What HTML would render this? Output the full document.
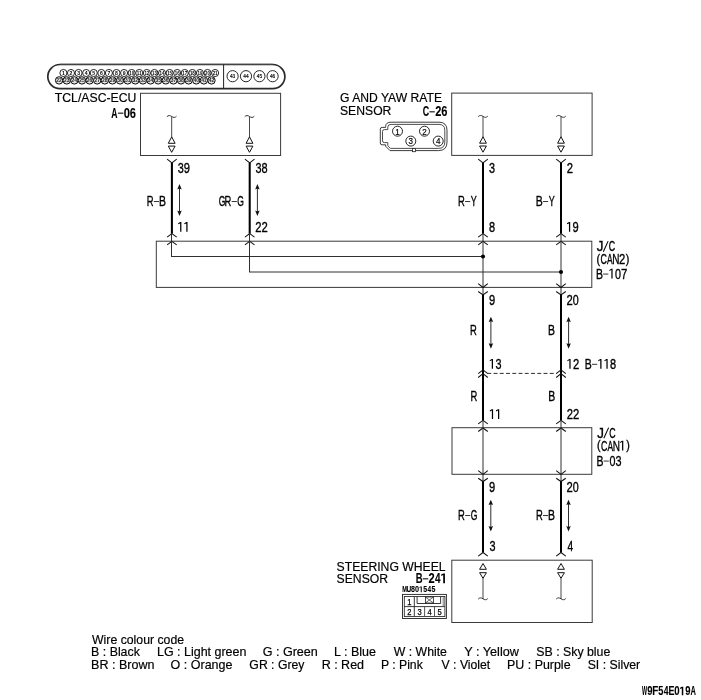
<!DOCTYPE html>
<html><head><meta charset="utf-8"><title>Wiring diagram</title>
<style>
html,body{margin:0;padding:0;background:#fff;}
body{width:701px;height:700px;overflow:hidden;}
svg{display:block;will-change:transform;}
text{font-family:"Liberation Sans",sans-serif;fill:#000;}
</style></head>
<body>
<svg width="701" height="700" viewBox="0 0 701 700">
<rect x="0" y="0" width="701" height="700" fill="#fff"/>
<rect x="47.8" y="64.5" width="237.09999999999997" height="24.200000000000003" rx="12.100000000000001" ry="12.100000000000001" fill="#fff" stroke="#2a2a2a" stroke-width="1.7"/>
<line x1="59.9" y1="63.8" x2="272.79999999999995" y2="63.8" stroke="#999" stroke-width="0.8" />
<line x1="223.6" y1="64.5" x2="223.6" y2="88.7" stroke="#222" stroke-width="1" />
<circle cx="59.10" cy="80.4" r="3.7" fill="#e4e4e4" stroke="#000" stroke-width="0.95"/>
<text x="59.10" y="82.2" font-size="5" font-weight="bold" text-anchor="middle" textLength="5.5" lengthAdjust="spacingAndGlyphs" style="fill:#222">22</text>
<circle cx="66.72" cy="80.4" r="3.7" fill="#e4e4e4" stroke="#000" stroke-width="0.95"/>
<text x="66.72" y="82.2" font-size="5" font-weight="bold" text-anchor="middle" textLength="5.5" lengthAdjust="spacingAndGlyphs" style="fill:#222">23</text>
<circle cx="74.34" cy="80.4" r="3.7" fill="#e4e4e4" stroke="#000" stroke-width="0.95"/>
<text x="74.34" y="82.2" font-size="5" font-weight="bold" text-anchor="middle" textLength="5.5" lengthAdjust="spacingAndGlyphs" style="fill:#222">24</text>
<circle cx="81.96" cy="80.4" r="3.7" fill="#e4e4e4" stroke="#000" stroke-width="0.95"/>
<text x="81.96" y="82.2" font-size="5" font-weight="bold" text-anchor="middle" textLength="5.5" lengthAdjust="spacingAndGlyphs" style="fill:#222">25</text>
<circle cx="89.58" cy="80.4" r="3.7" fill="#e4e4e4" stroke="#000" stroke-width="0.95"/>
<text x="89.58" y="82.2" font-size="5" font-weight="bold" text-anchor="middle" textLength="5.5" lengthAdjust="spacingAndGlyphs" style="fill:#222">26</text>
<circle cx="97.20" cy="80.4" r="3.7" fill="#e4e4e4" stroke="#000" stroke-width="0.95"/>
<text x="97.20" y="82.2" font-size="5" font-weight="bold" text-anchor="middle" textLength="5.5" lengthAdjust="spacingAndGlyphs" style="fill:#222">27</text>
<circle cx="104.82" cy="80.4" r="3.7" fill="#e4e4e4" stroke="#000" stroke-width="0.95"/>
<text x="104.82" y="82.2" font-size="5" font-weight="bold" text-anchor="middle" textLength="5.5" lengthAdjust="spacingAndGlyphs" style="fill:#222">28</text>
<circle cx="112.44" cy="80.4" r="3.7" fill="#e4e4e4" stroke="#000" stroke-width="0.95"/>
<text x="112.44" y="82.2" font-size="5" font-weight="bold" text-anchor="middle" textLength="5.5" lengthAdjust="spacingAndGlyphs" style="fill:#222">29</text>
<circle cx="120.06" cy="80.4" r="3.7" fill="#e4e4e4" stroke="#000" stroke-width="0.95"/>
<text x="120.06" y="82.2" font-size="5" font-weight="bold" text-anchor="middle" textLength="5.5" lengthAdjust="spacingAndGlyphs" style="fill:#222">30</text>
<circle cx="127.68" cy="80.4" r="3.7" fill="#e4e4e4" stroke="#000" stroke-width="0.95"/>
<text x="127.68" y="82.2" font-size="5" font-weight="bold" text-anchor="middle" textLength="5.5" lengthAdjust="spacingAndGlyphs" style="fill:#222">31</text>
<circle cx="135.30" cy="80.4" r="3.7" fill="#e4e4e4" stroke="#000" stroke-width="0.95"/>
<text x="135.30" y="82.2" font-size="5" font-weight="bold" text-anchor="middle" textLength="5.5" lengthAdjust="spacingAndGlyphs" style="fill:#222">32</text>
<circle cx="142.92" cy="80.4" r="3.7" fill="#e4e4e4" stroke="#000" stroke-width="0.95"/>
<text x="142.92" y="82.2" font-size="5" font-weight="bold" text-anchor="middle" textLength="5.5" lengthAdjust="spacingAndGlyphs" style="fill:#222">33</text>
<circle cx="150.54" cy="80.4" r="3.7" fill="#e4e4e4" stroke="#000" stroke-width="0.95"/>
<text x="150.54" y="82.2" font-size="5" font-weight="bold" text-anchor="middle" textLength="5.5" lengthAdjust="spacingAndGlyphs" style="fill:#222">34</text>
<circle cx="158.16" cy="80.4" r="3.7" fill="#e4e4e4" stroke="#000" stroke-width="0.95"/>
<text x="158.16" y="82.2" font-size="5" font-weight="bold" text-anchor="middle" textLength="5.5" lengthAdjust="spacingAndGlyphs" style="fill:#222">35</text>
<circle cx="165.78" cy="80.4" r="3.7" fill="#e4e4e4" stroke="#000" stroke-width="0.95"/>
<text x="165.78" y="82.2" font-size="5" font-weight="bold" text-anchor="middle" textLength="5.5" lengthAdjust="spacingAndGlyphs" style="fill:#222">36</text>
<circle cx="173.40" cy="80.4" r="3.7" fill="#e4e4e4" stroke="#000" stroke-width="0.95"/>
<text x="173.40" y="82.2" font-size="5" font-weight="bold" text-anchor="middle" textLength="5.5" lengthAdjust="spacingAndGlyphs" style="fill:#222">37</text>
<circle cx="181.02" cy="80.4" r="3.7" fill="#e4e4e4" stroke="#000" stroke-width="0.95"/>
<text x="181.02" y="82.2" font-size="5" font-weight="bold" text-anchor="middle" textLength="5.5" lengthAdjust="spacingAndGlyphs" style="fill:#222">38</text>
<circle cx="188.64" cy="80.4" r="3.7" fill="#e4e4e4" stroke="#000" stroke-width="0.95"/>
<text x="188.64" y="82.2" font-size="5" font-weight="bold" text-anchor="middle" textLength="5.5" lengthAdjust="spacingAndGlyphs" style="fill:#222">39</text>
<circle cx="196.26" cy="80.4" r="3.7" fill="#e4e4e4" stroke="#000" stroke-width="0.95"/>
<text x="196.26" y="82.2" font-size="5" font-weight="bold" text-anchor="middle" textLength="5.5" lengthAdjust="spacingAndGlyphs" style="fill:#222">40</text>
<circle cx="203.88" cy="80.4" r="3.7" fill="#e4e4e4" stroke="#000" stroke-width="0.95"/>
<text x="203.88" y="82.2" font-size="5" font-weight="bold" text-anchor="middle" textLength="5.5" lengthAdjust="spacingAndGlyphs" style="fill:#222">41</text>
<circle cx="211.50" cy="80.4" r="3.7" fill="#e4e4e4" stroke="#000" stroke-width="0.95"/>
<text x="211.50" y="82.2" font-size="5" font-weight="bold" text-anchor="middle" textLength="5.5" lengthAdjust="spacingAndGlyphs" style="fill:#222">42</text>
<circle cx="63.40" cy="73.0" r="3.55" fill="#fff" stroke="#000" stroke-width="0.85"/>
<text x="63.40" y="74.8" font-size="5.1" font-weight="bold" text-anchor="middle">1</text>
<circle cx="70.98" cy="73.0" r="3.55" fill="#fff" stroke="#000" stroke-width="0.85"/>
<text x="70.98" y="74.8" font-size="5.1" font-weight="bold" text-anchor="middle">2</text>
<circle cx="78.57" cy="73.0" r="3.55" fill="#fff" stroke="#000" stroke-width="0.85"/>
<text x="78.57" y="74.8" font-size="5.1" font-weight="bold" text-anchor="middle">3</text>
<circle cx="86.16" cy="73.0" r="3.55" fill="#fff" stroke="#000" stroke-width="0.85"/>
<text x="86.16" y="74.8" font-size="5.1" font-weight="bold" text-anchor="middle">4</text>
<circle cx="93.74" cy="73.0" r="3.55" fill="#fff" stroke="#000" stroke-width="0.85"/>
<text x="93.74" y="74.8" font-size="5.1" font-weight="bold" text-anchor="middle">5</text>
<circle cx="101.32" cy="73.0" r="3.55" fill="#fff" stroke="#000" stroke-width="0.85"/>
<text x="101.32" y="74.8" font-size="5.1" font-weight="bold" text-anchor="middle">6</text>
<circle cx="108.91" cy="73.0" r="3.55" fill="#fff" stroke="#000" stroke-width="0.85"/>
<text x="108.91" y="74.8" font-size="5.1" font-weight="bold" text-anchor="middle">7</text>
<circle cx="116.50" cy="73.0" r="3.55" fill="#fff" stroke="#000" stroke-width="0.85"/>
<text x="116.50" y="74.8" font-size="5.1" font-weight="bold" text-anchor="middle">8</text>
<circle cx="124.08" cy="73.0" r="3.55" fill="#fff" stroke="#000" stroke-width="0.85"/>
<text x="124.08" y="74.8" font-size="5.1" font-weight="bold" text-anchor="middle">9</text>
<circle cx="131.66" cy="73.0" r="3.55" fill="#fff" stroke="#000" stroke-width="0.85"/>
<text x="131.66" y="74.7" font-size="4.8" font-weight="bold" text-anchor="middle" textLength="4.9" lengthAdjust="spacingAndGlyphs">10</text>
<circle cx="139.25" cy="73.0" r="3.55" fill="#fff" stroke="#000" stroke-width="0.85"/>
<text x="139.25" y="74.7" font-size="4.8" font-weight="bold" text-anchor="middle" textLength="4.9" lengthAdjust="spacingAndGlyphs">11</text>
<circle cx="146.84" cy="73.0" r="3.55" fill="#fff" stroke="#000" stroke-width="0.85"/>
<text x="146.84" y="74.7" font-size="4.8" font-weight="bold" text-anchor="middle" textLength="4.9" lengthAdjust="spacingAndGlyphs">12</text>
<circle cx="154.42" cy="73.0" r="3.55" fill="#fff" stroke="#000" stroke-width="0.85"/>
<text x="154.42" y="74.7" font-size="4.8" font-weight="bold" text-anchor="middle" textLength="4.9" lengthAdjust="spacingAndGlyphs">13</text>
<circle cx="162.00" cy="73.0" r="3.55" fill="#fff" stroke="#000" stroke-width="0.85"/>
<text x="162.00" y="74.7" font-size="4.8" font-weight="bold" text-anchor="middle" textLength="4.9" lengthAdjust="spacingAndGlyphs">14</text>
<circle cx="169.59" cy="73.0" r="3.55" fill="#fff" stroke="#000" stroke-width="0.85"/>
<text x="169.59" y="74.7" font-size="4.8" font-weight="bold" text-anchor="middle" textLength="4.9" lengthAdjust="spacingAndGlyphs">15</text>
<circle cx="177.18" cy="73.0" r="3.55" fill="#fff" stroke="#000" stroke-width="0.85"/>
<text x="177.18" y="74.7" font-size="4.8" font-weight="bold" text-anchor="middle" textLength="4.9" lengthAdjust="spacingAndGlyphs">16</text>
<circle cx="184.76" cy="73.0" r="3.55" fill="#fff" stroke="#000" stroke-width="0.85"/>
<text x="184.76" y="74.7" font-size="4.8" font-weight="bold" text-anchor="middle" textLength="4.9" lengthAdjust="spacingAndGlyphs">17</text>
<circle cx="192.34" cy="73.0" r="3.55" fill="#fff" stroke="#000" stroke-width="0.85"/>
<text x="192.34" y="74.7" font-size="4.8" font-weight="bold" text-anchor="middle" textLength="4.9" lengthAdjust="spacingAndGlyphs">18</text>
<circle cx="199.93" cy="73.0" r="3.55" fill="#fff" stroke="#000" stroke-width="0.85"/>
<text x="199.93" y="74.7" font-size="4.8" font-weight="bold" text-anchor="middle" textLength="4.9" lengthAdjust="spacingAndGlyphs">19</text>
<circle cx="207.52" cy="73.0" r="3.55" fill="#fff" stroke="#000" stroke-width="0.85"/>
<text x="207.52" y="74.7" font-size="4.8" font-weight="bold" text-anchor="middle" textLength="4.9" lengthAdjust="spacingAndGlyphs">20</text>
<circle cx="215.10" cy="73.0" r="3.55" fill="#fff" stroke="#000" stroke-width="0.85"/>
<text x="215.10" y="74.7" font-size="4.8" font-weight="bold" text-anchor="middle" textLength="4.9" lengthAdjust="spacingAndGlyphs">21</text>
<circle cx="232.6" cy="76.2" r="5.6" fill="#fff" stroke="#111" stroke-width="0.9"/>
<text x="232.6" y="77.9" font-size="4.8" text-anchor="middle" stroke="#000" stroke-width="0.15">43</text>
<circle cx="246.0" cy="76.2" r="5.6" fill="#fff" stroke="#111" stroke-width="0.9"/>
<text x="246.0" y="77.9" font-size="4.8" text-anchor="middle" stroke="#000" stroke-width="0.15">44</text>
<circle cx="259.4" cy="76.2" r="5.6" fill="#fff" stroke="#111" stroke-width="0.9"/>
<text x="259.4" y="77.9" font-size="4.8" text-anchor="middle" stroke="#000" stroke-width="0.15">45</text>
<circle cx="272.6" cy="76.2" r="5.6" fill="#fff" stroke="#111" stroke-width="0.9"/>
<text x="272.6" y="77.9" font-size="4.8" text-anchor="middle" stroke="#000" stroke-width="0.15">46</text>
<text x="54.8" y="102.1" font-size="12.15" text-anchor="start" textLength="81.6" lengthAdjust="spacingAndGlyphs" stroke="#000" stroke-width="0.18">TCL/ASC-ECU</text>
<text transform="translate(111.37,117.70) scale(0.599,1)" font-size="14.4" font-weight="bold" fill="#000" stroke="#000" stroke-width="0.1">A</text>
<line x1="117.93" y1="113.20" x2="123.33" y2="113.20" stroke="#2a2a2a" stroke-width="1.25"/>
<text transform="translate(123.66,117.70) scale(0.779,1)" font-size="14.4" font-weight="bold" fill="#000" stroke="#000" stroke-width="0.1">0</text>
<text transform="translate(129.85,117.70) scale(0.766,1)" font-size="14.4" font-weight="bold" fill="#000" stroke="#000" stroke-width="0.1">6</text>
<text x="340.0" y="102.2" font-size="12.15" text-anchor="start" textLength="102.0" lengthAdjust="spacingAndGlyphs" stroke="#000" stroke-width="0.18">G AND YAW RATE</text>
<text x="340.0" y="115.0" font-size="12.15" text-anchor="start" textLength="51.4" lengthAdjust="spacingAndGlyphs" stroke="#000" stroke-width="0.18">SENSOR</text>
<text transform="translate(422.71,116.30) scale(0.616,1)" font-size="14.4" font-weight="bold" fill="#000" stroke="#000" stroke-width="0.1">C</text>
<line x1="429.42" y1="111.80" x2="434.82" y2="111.80" stroke="#2a2a2a" stroke-width="1.25"/>
<text transform="translate(435.22,116.30) scale(0.769,1)" font-size="14.4" font-weight="bold" fill="#000" stroke="#000" stroke-width="0.1">2</text>
<text transform="translate(441.35,116.30) scale(0.766,1)" font-size="14.4" font-weight="bold" fill="#000" stroke="#000" stroke-width="0.1">6</text>
<text x="336.6" y="571.3" font-size="12.15" text-anchor="start" textLength="109.0" lengthAdjust="spacingAndGlyphs" stroke="#000" stroke-width="0.18">STEERING WHEEL</text>
<text x="336.6" y="583.4" font-size="12.15" text-anchor="start" textLength="51.5" lengthAdjust="spacingAndGlyphs" stroke="#000" stroke-width="0.18">SENSOR</text>
<text transform="translate(415.85,583.30) scale(0.659,1)" font-size="14.4" font-weight="bold" fill="#000" stroke="#000" stroke-width="0.1">B</text>
<line x1="422.82" y1="578.80" x2="428.22" y2="578.80" stroke="#2a2a2a" stroke-width="1.25"/>
<text transform="translate(428.62,583.30) scale(0.769,1)" font-size="14.4" font-weight="bold" fill="#000" stroke="#000" stroke-width="0.1">2</text>
<text transform="translate(435.00,583.30) scale(0.693,1)" font-size="14.4" font-weight="bold" fill="#000" stroke="#000" stroke-width="0.1">4</text>
<path d="M443.21,573.39 L444.94,573.39 L444.94,583.30 L443.21,583.30 L443.21,575.02 L441.19,575.93 L441.19,574.56 Z" fill="#000"/>
<rect x="140.5" y="93.3" width="140.10" height="62.20" stroke="#3a3a3a" stroke-width="1.0" fill="none"/>
<rect x="451.7" y="93.1" width="140.40" height="62.30" stroke="#3a3a3a" stroke-width="1.0" fill="none"/>
<rect x="156.3" y="241.2" width="435.50" height="46.20" stroke="#3a3a3a" stroke-width="1.0" fill="none"/>
<rect x="452.0" y="427.7" width="139.80" height="46.60" stroke="#3a3a3a" stroke-width="1.0" fill="none"/>
<rect x="451.8" y="560.2" width="140.40" height="62.30" stroke="#3a3a3a" stroke-width="1.0" fill="none"/>
<path d="M166.9,116.8 C168.20000000000002,115.1 170.10000000000002,115.3 171.70000000000002,116.5 C173.3,117.7 175.20000000000002,117.9 176.50000000000003,116.2" stroke="#222" stroke-width="0.9" fill="none" />
<line x1="171.70000000000002" y1="116.5" x2="171.70000000000002" y2="137.1" stroke="#333" stroke-width="0.9" />
<path d="M171.70000000000002,136.89999999999998 L168.3,143.3 L175.10000000000002,143.3 Z" stroke="#111" stroke-width="1.0" fill="#fff" />
<path d="M168.3,146.1 L175.10000000000002,146.1 L171.70000000000002,152.3 Z" stroke="#111" stroke-width="1.0" fill="#fff" />
<path d="M244.7,116.8 C246.0,115.1 247.9,115.3 249.5,116.5 C251.1,117.7 253.0,117.9 254.3,116.2" stroke="#222" stroke-width="0.9" fill="none" />
<line x1="249.5" y1="116.5" x2="249.5" y2="137.1" stroke="#333" stroke-width="0.9" />
<path d="M249.5,136.89999999999998 L246.1,143.3 L252.9,143.3 Z" stroke="#111" stroke-width="1.0" fill="#fff" />
<path d="M246.1,146.1 L252.9,146.1 L249.5,152.3 Z" stroke="#111" stroke-width="1.0" fill="#fff" />
<path d="M478.2,116.7 C479.5,115.0 481.4,115.2 483.0,116.4 C484.6,117.60000000000001 486.5,117.80000000000001 487.8,116.10000000000001" stroke="#222" stroke-width="0.9" fill="none" />
<line x1="483.0" y1="116.4" x2="483.0" y2="137.0" stroke="#333" stroke-width="0.9" />
<path d="M483.0,136.8 L479.6,143.2 L486.4,143.2 Z" stroke="#111" stroke-width="1.0" fill="#fff" />
<path d="M479.6,146.0 L486.4,146.0 L483.0,152.2 Z" stroke="#111" stroke-width="1.0" fill="#fff" />
<path d="M556.2,116.7 C557.5,115.0 559.4,115.2 561.0,116.4 C562.6,117.60000000000001 564.5,117.80000000000001 565.8,116.10000000000001" stroke="#222" stroke-width="0.9" fill="none" />
<line x1="561.0" y1="116.4" x2="561.0" y2="137.0" stroke="#333" stroke-width="0.9" />
<path d="M561.0,136.8 L557.6,143.2 L564.4,143.2 Z" stroke="#111" stroke-width="1.0" fill="#fff" />
<path d="M557.6,146.0 L564.4,146.0 L561.0,152.2 Z" stroke="#111" stroke-width="1.0" fill="#fff" />
<path d="M483.0,563.5 L479.6,569.3 L486.4,569.3 Z" stroke="#111" stroke-width="1.0" fill="#fff" />
<path d="M479.6,572.7 L486.4,572.7 L483.0,578.3 Z" stroke="#111" stroke-width="1.0" fill="#fff" />
<line x1="483.0" y1="578.3" x2="483.0" y2="598.8" stroke="#333" stroke-width="0.9" />
<path d="M478.2,599.0999999999999 C479.5,597.4 481.4,597.5999999999999 483.0,598.8 C484.6,600.0 486.5,600.1999999999999 487.8,598.5" stroke="#222" stroke-width="0.9" fill="none" />
<path d="M561.0,563.5 L557.6,569.3 L564.4,569.3 Z" stroke="#111" stroke-width="1.0" fill="#fff" />
<path d="M557.6,572.7 L564.4,572.7 L561.0,578.3 Z" stroke="#111" stroke-width="1.0" fill="#fff" />
<line x1="561.0" y1="578.3" x2="561.0" y2="598.8" stroke="#333" stroke-width="0.9" />
<path d="M556.2,599.0999999999999 C557.5,597.4 559.4,597.5999999999999 561.0,598.8 C562.6,600.0 564.5,600.1999999999999 565.8,598.5" stroke="#222" stroke-width="0.9" fill="none" />
<path d="M167.1,159.1 L171.9,162.9 L176.70000000000002,159.1" stroke="#111" stroke-width="1.05" fill="none" />
<line x1="171.9" y1="162.7" x2="171.9" y2="233.7" stroke="#000" stroke-width="2.05" />
<path d="M167.1,237.1 L171.9,233.6 L176.70000000000002,237.1" stroke="#111" stroke-width="1.05" fill="none" />
<path d="M167.1,244.8 L171.9,241.3 L176.70000000000002,244.8" stroke="#111" stroke-width="1.05" fill="none" />
<path d="M244.89999999999998,159.1 L249.7,162.9 L254.5,159.1" stroke="#111" stroke-width="1.05" fill="none" />
<line x1="249.7" y1="162.7" x2="249.7" y2="233.7" stroke="#000" stroke-width="2.05" />
<path d="M244.89999999999998,237.1 L249.7,233.6 L254.5,237.1" stroke="#111" stroke-width="1.05" fill="none" />
<path d="M244.89999999999998,244.8 L249.7,241.3 L254.5,244.8" stroke="#111" stroke-width="1.05" fill="none" />
<path d="M478.2,159.1 L483.0,162.9 L487.8,159.1" stroke="#111" stroke-width="1.05" fill="none" />
<line x1="483.0" y1="162.7" x2="483.0" y2="233.7" stroke="#000" stroke-width="2.05" />
<path d="M478.2,237.1 L483.0,233.6 L487.8,237.1" stroke="#111" stroke-width="1.05" fill="none" />
<path d="M478.2,244.8 L483.0,241.3 L487.8,244.8" stroke="#111" stroke-width="1.05" fill="none" />
<path d="M556.2,159.1 L561.0,162.9 L565.8,159.1" stroke="#111" stroke-width="1.05" fill="none" />
<line x1="561.0" y1="162.7" x2="561.0" y2="233.7" stroke="#000" stroke-width="2.05" />
<path d="M556.2,237.1 L561.0,233.6 L565.8,237.1" stroke="#111" stroke-width="1.05" fill="none" />
<path d="M556.2,244.8 L561.0,241.3 L565.8,244.8" stroke="#111" stroke-width="1.05" fill="none" />
<line x1="171.5" y1="233.7" x2="171.5" y2="256.5" stroke="#303030" stroke-width="1.0" />
<line x1="249.5" y1="233.7" x2="249.5" y2="272.0" stroke="#303030" stroke-width="1.0" />
<line x1="171.0" y1="256.5" x2="483.0" y2="256.5" stroke="#303030" stroke-width="1.0" />
<line x1="249.0" y1="272.0" x2="561.0" y2="272.0" stroke="#303030" stroke-width="1.0" />
<line x1="483.0" y1="233.7" x2="483.0" y2="294.8" stroke="#303030" stroke-width="1.0" />
<path d="M478.2,283.6 L483.0,287.5 L487.8,283.6" stroke="#111" stroke-width="1.05" fill="none" />
<path d="M478.2,291.5 L483.0,294.9 L487.8,291.5" stroke="#111" stroke-width="1.05" fill="none" />
<line x1="483.0" y1="294.7" x2="483.0" y2="420.5" stroke="#000" stroke-width="2.05" />
<path d="M478.2,373.59999999999997 L483.0,369.9 L487.8,373.59999999999997" stroke="#111" stroke-width="1.05" fill="none" />
<path d="M478.2,377.5 L483.0,373.7 L487.8,377.5" stroke="#111" stroke-width="1.05" fill="none" />
<path d="M478.2,423.8 L483.0,420.3 L487.8,423.8" stroke="#111" stroke-width="1.05" fill="none" />
<path d="M478.2,431.5 L483.0,428.0 L487.8,431.5" stroke="#111" stroke-width="1.05" fill="none" />
<line x1="483.0" y1="420.4" x2="483.0" y2="481.4" stroke="#303030" stroke-width="1.0" />
<path d="M478.2,470.6 L483.0,474.4 L487.8,470.6" stroke="#111" stroke-width="1.05" fill="none" />
<path d="M478.2,478.2 L483.0,481.5 L487.8,478.2" stroke="#111" stroke-width="1.05" fill="none" />
<line x1="483.0" y1="481.3" x2="483.0" y2="552.6" stroke="#000" stroke-width="2.05" />
<path d="M478.2,556.2 L483.0,552.5 L487.8,556.2" stroke="#111" stroke-width="1.05" fill="none" />
<line x1="561.0" y1="233.7" x2="561.0" y2="294.8" stroke="#303030" stroke-width="1.0" />
<path d="M556.2,283.6 L561.0,287.5 L565.8,283.6" stroke="#111" stroke-width="1.05" fill="none" />
<path d="M556.2,291.5 L561.0,294.9 L565.8,291.5" stroke="#111" stroke-width="1.05" fill="none" />
<line x1="561.0" y1="294.7" x2="561.0" y2="420.5" stroke="#000" stroke-width="2.05" />
<path d="M556.2,373.59999999999997 L561.0,369.9 L565.8,373.59999999999997" stroke="#111" stroke-width="1.05" fill="none" />
<path d="M556.2,377.5 L561.0,373.7 L565.8,377.5" stroke="#111" stroke-width="1.05" fill="none" />
<path d="M556.2,423.8 L561.0,420.3 L565.8,423.8" stroke="#111" stroke-width="1.05" fill="none" />
<path d="M556.2,431.5 L561.0,428.0 L565.8,431.5" stroke="#111" stroke-width="1.05" fill="none" />
<line x1="561.0" y1="420.4" x2="561.0" y2="481.4" stroke="#303030" stroke-width="1.0" />
<path d="M556.2,470.6 L561.0,474.4 L565.8,470.6" stroke="#111" stroke-width="1.05" fill="none" />
<path d="M556.2,478.2 L561.0,481.5 L565.8,478.2" stroke="#111" stroke-width="1.05" fill="none" />
<line x1="561.0" y1="481.3" x2="561.0" y2="552.6" stroke="#000" stroke-width="2.05" />
<path d="M556.2,556.2 L561.0,552.5 L565.8,556.2" stroke="#111" stroke-width="1.05" fill="none" />
<circle cx="483.0" cy="256.5" r="2.05" fill="#000"/>
<circle cx="561.0" cy="272.0" r="2.05" fill="#000"/>
<line x1="487.3" y1="373.4" x2="556.6" y2="373.4" stroke="#222" stroke-width="0.95" stroke-dasharray="3.9 2.35"/>
<line x1="179.5" y1="186.0" x2="179.5" y2="214.0" stroke="#222" stroke-width="0.95" />
<path d="M179.5,184.0 L177.25,189.4 L179.5,188.6 L181.75,189.4 Z" fill="#111"/>
<path d="M179.5,216.0 L177.25,210.6 L179.5,211.4 L181.75,210.6 Z" fill="#111"/>
<line x1="257.4" y1="186.0" x2="257.4" y2="214.0" stroke="#222" stroke-width="0.95" />
<path d="M257.4,184.0 L255.14999999999998,189.4 L257.4,188.6 L259.65,189.4 Z" fill="#111"/>
<path d="M257.4,216.0 L255.14999999999998,210.6 L257.4,211.4 L259.65,210.6 Z" fill="#111"/>
<line x1="490.9" y1="318.7" x2="490.9" y2="346.7" stroke="#222" stroke-width="0.95" />
<path d="M490.9,316.7 L488.65,322.09999999999997 L490.9,321.3 L493.15,322.09999999999997 Z" fill="#111"/>
<path d="M490.9,348.7 L488.65,343.3 L490.9,344.09999999999997 L493.15,343.3 Z" fill="#111"/>
<line x1="568.6" y1="318.7" x2="568.6" y2="346.7" stroke="#222" stroke-width="0.95" />
<path d="M568.6,316.7 L566.35,322.09999999999997 L568.6,321.3 L570.85,322.09999999999997 Z" fill="#111"/>
<path d="M568.6,348.7 L566.35,343.3 L568.6,344.09999999999997 L570.85,343.3 Z" fill="#111"/>
<line x1="490.8" y1="501.7" x2="490.8" y2="529.5" stroke="#222" stroke-width="0.95" />
<path d="M490.8,499.7 L488.55,505.09999999999997 L490.8,504.3 L493.05,505.09999999999997 Z" fill="#111"/>
<path d="M490.8,531.5 L488.55,526.1 L490.8,526.9 L493.05,526.1 Z" fill="#111"/>
<line x1="568.5" y1="501.7" x2="568.5" y2="529.5" stroke="#222" stroke-width="0.95" />
<path d="M568.5,499.7 L566.25,505.09999999999997 L568.5,504.3 L570.75,505.09999999999997 Z" fill="#111"/>
<path d="M568.5,531.5 L566.25,526.1 L568.5,526.9 L570.75,526.1 Z" fill="#111"/>
<text transform="translate(177.69,172.50) scale(0.764,1)" font-size="14.2" font-weight="normal" fill="#000" stroke="#000" stroke-width="0.35">3</text>
<text transform="translate(183.74,172.50) scale(0.783,1)" font-size="14.2" font-weight="normal" fill="#000" stroke="#000" stroke-width="0.35">9</text>
<text transform="translate(255.49,172.50) scale(0.764,1)" font-size="14.2" font-weight="normal" fill="#000" stroke="#000" stroke-width="0.35">3</text>
<text transform="translate(261.58,172.50) scale(0.772,1)" font-size="14.2" font-weight="normal" fill="#000" stroke="#000" stroke-width="0.35">8</text>
<text transform="translate(146.70,205.95) scale(0.664,1)" font-size="14.2" font-weight="normal" fill="#000" stroke="#000" stroke-width="0.35">R</text>
<line x1="153.82" y1="201.52" x2="159.02" y2="201.52" stroke="#2a2a2a" stroke-width="0.95"/>
<text transform="translate(158.91,205.95) scale(0.740,1)" font-size="14.2" font-weight="normal" fill="#000" stroke="#000" stroke-width="0.35">B</text>
<text transform="translate(218.75,205.95) scale(0.603,1)" font-size="14.2" font-weight="normal" fill="#000" stroke="#000" stroke-width="0.35">G</text>
<text transform="translate(224.55,205.95) scale(0.664,1)" font-size="14.2" font-weight="normal" fill="#000" stroke="#000" stroke-width="0.35">R</text>
<line x1="231.68" y1="201.52" x2="236.88" y2="201.52" stroke="#2a2a2a" stroke-width="0.95"/>
<text transform="translate(237.20,205.95) scale(0.603,1)" font-size="14.2" font-weight="normal" fill="#000" stroke="#000" stroke-width="0.35">G</text>
<path d="M180.15,222.08 L181.39,222.08 L181.39,231.85 L180.15,231.85 L180.15,223.38 L178.15,224.28 L178.15,223.23 Z" fill="#000"/>
<path d="M186.30,222.08 L187.54,222.08 L187.54,231.85 L186.30,231.85 L186.30,223.38 L184.30,224.28 L184.30,223.23 Z" fill="#000"/>
<text transform="translate(255.34,231.85) scale(0.795,1)" font-size="14.2" font-weight="normal" fill="#000" stroke="#000" stroke-width="0.35">2</text>
<text transform="translate(261.49,231.85) scale(0.795,1)" font-size="14.2" font-weight="normal" fill="#000" stroke="#000" stroke-width="0.35">2</text>
<text transform="translate(488.99,172.50) scale(0.764,1)" font-size="14.2" font-weight="normal" fill="#000" stroke="#000" stroke-width="0.35">3</text>
<text transform="translate(566.74,172.50) scale(0.795,1)" font-size="14.2" font-weight="normal" fill="#000" stroke="#000" stroke-width="0.35">2</text>
<text transform="translate(457.90,205.95) scale(0.664,1)" font-size="14.2" font-weight="normal" fill="#000" stroke="#000" stroke-width="0.35">R</text>
<line x1="465.02" y1="201.52" x2="470.22" y2="201.52" stroke="#2a2a2a" stroke-width="0.95"/>
<text transform="translate(470.78,205.95) scale(0.633,1)" font-size="14.2" font-weight="normal" fill="#000" stroke="#000" stroke-width="0.35">Y</text>
<text transform="translate(535.71,205.95) scale(0.740,1)" font-size="14.2" font-weight="normal" fill="#000" stroke="#000" stroke-width="0.35">B</text>
<line x1="542.92" y1="201.52" x2="548.12" y2="201.52" stroke="#2a2a2a" stroke-width="0.95"/>
<text transform="translate(548.68,205.95) scale(0.633,1)" font-size="14.2" font-weight="normal" fill="#000" stroke="#000" stroke-width="0.35">Y</text>
<text transform="translate(488.93,231.85) scale(0.772,1)" font-size="14.2" font-weight="normal" fill="#000" stroke="#000" stroke-width="0.35">8</text>
<path d="M568.96,222.08 L570.20,222.08 L570.20,231.85 L568.96,231.85 L568.96,223.38 L566.96,224.28 L566.96,223.23 Z" fill="#000"/>
<text transform="translate(572.54,231.85) scale(0.783,1)" font-size="14.2" font-weight="normal" fill="#000" stroke="#000" stroke-width="0.35">9</text>
<text transform="translate(596.63,251.20) scale(0.940,1)" font-size="14.2" font-weight="normal" fill="#000" stroke="#000" stroke-width="0.35">J</text>
<line x1="603.32" y1="251.80" x2="608.13" y2="241.12" stroke="#000" stroke-width="1.05"/>
<text transform="translate(608.63,251.20) scale(0.621,1)" font-size="14.2" font-weight="normal" fill="#000" stroke="#000" stroke-width="0.35">C</text>
<text transform="translate(596.43,263.30) scale(0.900,1)" font-size="11.93" font-weight="normal" fill="#000" stroke="#000" stroke-width="0.35">(</text>
<text transform="translate(600.38,264.40) scale(0.621,1)" font-size="14.2" font-weight="normal" fill="#000" stroke="#000" stroke-width="0.35">C</text>
<text transform="translate(606.96,264.40) scale(0.595,1)" font-size="14.2" font-weight="normal" fill="#000" stroke="#000" stroke-width="0.35">A</text>
<text transform="translate(612.30,264.40) scale(0.705,1)" font-size="14.2" font-weight="normal" fill="#000" stroke="#000" stroke-width="0.35">N</text>
<text transform="translate(618.94,264.40) scale(0.795,1)" font-size="14.2" font-weight="normal" fill="#000" stroke="#000" stroke-width="0.35">2</text>
<text transform="translate(625.70,263.30) scale(0.900,1)" font-size="11.93" font-weight="normal" fill="#000" stroke="#000" stroke-width="0.35">)</text>
<text transform="translate(595.91,278.50) scale(0.740,1)" font-size="14.2" font-weight="normal" fill="#000" stroke="#000" stroke-width="0.35">B</text>
<line x1="603.12" y1="274.07" x2="608.33" y2="274.07" stroke="#2a2a2a" stroke-width="0.95"/>
<path d="M611.36,268.73 L612.60,268.73 L612.60,278.50 L611.36,278.50 L611.36,270.03 L609.36,270.93 L609.36,269.88 Z" fill="#000"/>
<text transform="translate(615.03,278.50) scale(0.757,1)" font-size="14.2" font-weight="normal" fill="#000" stroke="#000" stroke-width="0.35">0</text>
<text transform="translate(621.02,278.50) scale(0.797,1)" font-size="14.2" font-weight="normal" fill="#000" stroke="#000" stroke-width="0.35">7</text>
<text transform="translate(488.89,305.20) scale(0.783,1)" font-size="14.2" font-weight="normal" fill="#000" stroke="#000" stroke-width="0.35">9</text>
<text transform="translate(566.54,305.20) scale(0.795,1)" font-size="14.2" font-weight="normal" fill="#000" stroke="#000" stroke-width="0.35">2</text>
<text transform="translate(572.83,305.20) scale(0.757,1)" font-size="14.2" font-weight="normal" fill="#000" stroke="#000" stroke-width="0.35">0</text>
<text transform="translate(470.10,334.95) scale(0.664,1)" font-size="14.2" font-weight="normal" fill="#000" stroke="#000" stroke-width="0.35">R</text>
<text transform="translate(548.01,334.95) scale(0.740,1)" font-size="14.2" font-weight="normal" fill="#000" stroke="#000" stroke-width="0.35">B</text>
<path d="M491.75,358.98 L493.00,358.98 L493.00,368.75 L491.75,368.75 L491.75,360.28 L489.75,361.18 L489.75,360.13 Z" fill="#000"/>
<text transform="translate(495.44,368.75) scale(0.764,1)" font-size="14.2" font-weight="normal" fill="#000" stroke="#000" stroke-width="0.35">3</text>
<path d="M569.36,358.98 L570.60,358.98 L570.60,368.75 L569.36,368.75 L569.36,360.28 L567.36,361.18 L567.36,360.13 Z" fill="#000"/>
<text transform="translate(572.89,368.75) scale(0.795,1)" font-size="14.2" font-weight="normal" fill="#000" stroke="#000" stroke-width="0.35">2</text>
<text transform="translate(584.81,368.75) scale(0.740,1)" font-size="14.2" font-weight="normal" fill="#000" stroke="#000" stroke-width="0.35">B</text>
<line x1="592.02" y1="364.32" x2="597.23" y2="364.32" stroke="#2a2a2a" stroke-width="0.95"/>
<path d="M600.25,358.98 L601.50,358.98 L601.50,368.75 L600.25,368.75 L600.25,360.28 L598.25,361.18 L598.25,360.13 Z" fill="#000"/>
<path d="M606.41,358.98 L607.65,358.98 L607.65,368.75 L606.41,368.75 L606.41,360.28 L604.41,361.18 L604.41,360.13 Z" fill="#000"/>
<text transform="translate(610.03,368.75) scale(0.772,1)" font-size="14.2" font-weight="normal" fill="#000" stroke="#000" stroke-width="0.35">8</text>
<text transform="translate(470.40,400.85) scale(0.664,1)" font-size="14.2" font-weight="normal" fill="#000" stroke="#000" stroke-width="0.35">R</text>
<text transform="translate(548.21,400.85) scale(0.740,1)" font-size="14.2" font-weight="normal" fill="#000" stroke="#000" stroke-width="0.35">B</text>
<path d="M491.86,409.18 L493.10,409.18 L493.10,418.95 L491.86,418.95 L491.86,410.48 L489.86,411.38 L489.86,410.33 Z" fill="#000"/>
<path d="M498.00,409.18 L499.25,409.18 L499.25,418.95 L498.00,418.95 L498.00,410.48 L496.00,411.38 L496.00,410.33 Z" fill="#000"/>
<text transform="translate(566.74,418.95) scale(0.795,1)" font-size="14.2" font-weight="normal" fill="#000" stroke="#000" stroke-width="0.35">2</text>
<text transform="translate(572.89,418.95) scale(0.795,1)" font-size="14.2" font-weight="normal" fill="#000" stroke="#000" stroke-width="0.35">2</text>
<text transform="translate(597.13,437.70) scale(0.940,1)" font-size="14.2" font-weight="normal" fill="#000" stroke="#000" stroke-width="0.35">J</text>
<line x1="603.82" y1="438.30" x2="608.63" y2="427.62" stroke="#000" stroke-width="1.05"/>
<text transform="translate(609.13,437.70) scale(0.621,1)" font-size="14.2" font-weight="normal" fill="#000" stroke="#000" stroke-width="0.35">C</text>
<text transform="translate(596.93,449.40) scale(0.900,1)" font-size="11.93" font-weight="normal" fill="#000" stroke="#000" stroke-width="0.35">(</text>
<text transform="translate(600.88,450.50) scale(0.621,1)" font-size="14.2" font-weight="normal" fill="#000" stroke="#000" stroke-width="0.35">C</text>
<text transform="translate(607.46,450.50) scale(0.595,1)" font-size="14.2" font-weight="normal" fill="#000" stroke="#000" stroke-width="0.35">A</text>
<text transform="translate(612.80,450.50) scale(0.705,1)" font-size="14.2" font-weight="normal" fill="#000" stroke="#000" stroke-width="0.35">N</text>
<path d="M622.06,440.73 L623.30,440.73 L623.30,450.50 L622.06,450.50 L622.06,442.03 L620.06,442.93 L620.06,441.88 Z" fill="#000"/>
<text transform="translate(626.20,449.40) scale(0.900,1)" font-size="11.93" font-weight="normal" fill="#000" stroke="#000" stroke-width="0.35">)</text>
<text transform="translate(596.41,465.50) scale(0.740,1)" font-size="14.2" font-weight="normal" fill="#000" stroke="#000" stroke-width="0.35">B</text>
<line x1="603.62" y1="461.07" x2="608.83" y2="461.07" stroke="#2a2a2a" stroke-width="0.95"/>
<text transform="translate(609.38,465.50) scale(0.757,1)" font-size="14.2" font-weight="normal" fill="#000" stroke="#000" stroke-width="0.35">0</text>
<text transform="translate(615.54,465.50) scale(0.764,1)" font-size="14.2" font-weight="normal" fill="#000" stroke="#000" stroke-width="0.35">3</text>
<text transform="translate(488.89,491.60) scale(0.783,1)" font-size="14.2" font-weight="normal" fill="#000" stroke="#000" stroke-width="0.35">9</text>
<text transform="translate(566.54,491.60) scale(0.795,1)" font-size="14.2" font-weight="normal" fill="#000" stroke="#000" stroke-width="0.35">2</text>
<text transform="translate(572.83,491.60) scale(0.757,1)" font-size="14.2" font-weight="normal" fill="#000" stroke="#000" stroke-width="0.35">0</text>
<text transform="translate(458.00,519.95) scale(0.664,1)" font-size="14.2" font-weight="normal" fill="#000" stroke="#000" stroke-width="0.35">R</text>
<line x1="465.12" y1="515.52" x2="470.32" y2="515.52" stroke="#2a2a2a" stroke-width="0.95"/>
<text transform="translate(470.65,519.95) scale(0.603,1)" font-size="14.2" font-weight="normal" fill="#000" stroke="#000" stroke-width="0.35">G</text>
<text transform="translate(535.90,519.95) scale(0.664,1)" font-size="14.2" font-weight="normal" fill="#000" stroke="#000" stroke-width="0.35">R</text>
<line x1="543.02" y1="515.52" x2="548.23" y2="515.52" stroke="#2a2a2a" stroke-width="0.95"/>
<text transform="translate(548.11,519.95) scale(0.740,1)" font-size="14.2" font-weight="normal" fill="#000" stroke="#000" stroke-width="0.35">B</text>
<text transform="translate(489.49,550.65) scale(0.764,1)" font-size="14.2" font-weight="normal" fill="#000" stroke="#000" stroke-width="0.35">3</text>
<text transform="translate(567.48,550.65) scale(0.718,1)" font-size="14.2" font-weight="normal" fill="#000" stroke="#000" stroke-width="0.35">4</text>
<path d="M391.1,122.2 L439.0,122.2 Q447.0,122.2 447.0,130.2 L447.0,142.1 Q447.0,150.6 438.5,150.6 L390.0,150.6 L385.6,146.2 L385.6,144.8 L382.1,144.8 Q380.3,144.8 380.3,143.0 L380.3,129.20000000000002 Q380.3,127.4 382.1,127.4 L385.6,127.4 L385.6,126.60000000000001 Q385.6,122.2 391.1,122.2 Z" stroke="#1a1a1a" stroke-width="0.85" fill="#fff" />
<path d="M391.1,124.4 L439.0,124.4 Q444.8,124.4 444.8,130.2 L444.8,142.1 Q444.8,148.4 438.5,148.4 L390.44,148.4 L387.8,145.76000000000002 L387.8,142.60000000000002 L384.3,142.60000000000002 Q382.5,142.60000000000002 382.5,140.8 L382.5,131.4 Q382.5,129.6 384.3,129.6 L387.8,129.6 L387.8,127.04 Q387.8,124.4 391.1,124.4 Z" stroke="#222" stroke-width="0.8" fill="none" />
<rect x="412.4" y="148.6" width="3" height="3.1" fill="#fff" stroke="#222" stroke-width="0.8"/>
<circle cx="397.5" cy="131.2" r="5.0" fill="#fff" stroke="#111" stroke-width="0.9"/>
<text x="397.5" y="134.5" font-size="9.2" text-anchor="middle" textLength="4.5" lengthAdjust="spacingAndGlyphs" stroke="#000" stroke-width="0.2">1</text>
<circle cx="424.5" cy="131.2" r="5.0" fill="#fff" stroke="#111" stroke-width="0.9"/>
<text x="424.5" y="134.5" font-size="9.2" text-anchor="middle" textLength="4.5" lengthAdjust="spacingAndGlyphs" stroke="#000" stroke-width="0.2">2</text>
<circle cx="410.8" cy="141.1" r="5.0" fill="#fff" stroke="#111" stroke-width="0.9"/>
<text x="410.8" y="144.4" font-size="9.2" text-anchor="middle" textLength="4.5" lengthAdjust="spacingAndGlyphs" stroke="#000" stroke-width="0.2">3</text>
<circle cx="438.2" cy="141.1" r="5.0" fill="#fff" stroke="#111" stroke-width="0.9"/>
<text x="438.2" y="144.4" font-size="9.2" text-anchor="middle" textLength="4.5" lengthAdjust="spacingAndGlyphs" stroke="#000" stroke-width="0.2">4</text>
<text transform="translate(402.32,592.30) scale(0.655,1)" font-size="8.6" font-weight="bold" fill="#000" stroke="#000" stroke-width="0.1">M</text>
<text transform="translate(406.43,592.30) scale(0.763,1)" font-size="8.6" font-weight="bold" fill="#000" stroke="#000" stroke-width="0.1">U</text>
<text transform="translate(410.96,592.30) scale(0.822,1)" font-size="8.6" font-weight="bold" fill="#000" stroke="#000" stroke-width="0.1">8</text>
<text transform="translate(415.02,592.30) scale(0.853,1)" font-size="8.6" font-weight="bold" fill="#000" stroke="#000" stroke-width="0.1">0</text>
<path d="M420.73,586.38 L421.76,586.38 L421.76,592.30 L420.73,592.30 L420.73,587.35 L419.52,587.90 L419.52,587.08 Z" fill="#000"/>
<text transform="translate(423.35,592.30) scale(0.816,1)" font-size="8.6" font-weight="bold" fill="#000" stroke="#000" stroke-width="0.1">5</text>
<text transform="translate(427.60,592.30) scale(0.759,1)" font-size="8.6" font-weight="bold" fill="#000" stroke="#000" stroke-width="0.1">4</text>
<text transform="translate(431.61,592.30) scale(0.816,1)" font-size="8.6" font-weight="bold" fill="#000" stroke="#000" stroke-width="0.1">5</text>
<rect x="402.5" y="594.4" width="43.9" height="24.1" fill="#fff" stroke="#222" stroke-width="0.9"/>
<rect x="404.3" y="596.5" width="40.6" height="20.1" fill="none" stroke="#222" stroke-width="0.85"/>
<line x1="404.3" y1="606.6" x2="444.9" y2="606.6" stroke="#222" stroke-width="0.9" />
<line x1="414.3" y1="596.5" x2="414.3" y2="616.6" stroke="#222" stroke-width="0.9" />
<line x1="424.6" y1="606.6" x2="424.6" y2="616.6" stroke="#444" stroke-width="0.9" />
<line x1="434.5" y1="606.6" x2="434.5" y2="616.6" stroke="#444" stroke-width="0.9" />
<path d="M417.1,596.5 L417.1,603.5 L440.6,603.5 L440.6,596.5" stroke="#222" stroke-width="0.9" fill="none" />
<line x1="443.2" y1="596.5" x2="443.2" y2="606.6" stroke="#555" stroke-width="0.8" />
<rect x="425.4" y="597.0" width="8" height="6.0" fill="#fff" stroke="#222" stroke-width="0.8"/>
<path d="M425.4,597.0 L433.4,603.0 M433.4,597.0 L425.4,603.0" stroke="#222" stroke-width="0.7" fill="none" />
<text x="409.3" y="604.6" font-size="8.8" text-anchor="middle" textLength="4.2" lengthAdjust="spacingAndGlyphs" stroke="#000" stroke-width="0.25">1</text>
<text x="409.3" y="614.9" font-size="8.8" text-anchor="middle" textLength="4.2" lengthAdjust="spacingAndGlyphs" stroke="#000" stroke-width="0.25">2</text>
<text x="419.5" y="614.9" font-size="8.8" text-anchor="middle" textLength="4.2" lengthAdjust="spacingAndGlyphs" stroke="#000" stroke-width="0.25">3</text>
<text x="429.5" y="614.9" font-size="8.8" text-anchor="middle" textLength="4.2" lengthAdjust="spacingAndGlyphs" stroke="#000" stroke-width="0.25">4</text>
<text x="439.7" y="614.9" font-size="8.8" text-anchor="middle" textLength="4.2" lengthAdjust="spacingAndGlyphs" stroke="#000" stroke-width="0.25">5</text>
<text x="92.05" y="643.8" font-size="12.15" text-anchor="start" textLength="91.99" lengthAdjust="spacingAndGlyphs" stroke="#000" stroke-width="0.18">Wire colour code</text>
<text x="91.09" y="656.1" font-size="12.15" text-anchor="start" textLength="48.79" lengthAdjust="spacingAndGlyphs" stroke="#000" stroke-width="0.18">B : Black</text>
<text x="156.98" y="656.1" font-size="12.15" text-anchor="start" textLength="89.43" lengthAdjust="spacingAndGlyphs" stroke="#000" stroke-width="0.18">LG : Light green</text>
<text x="262.67" y="656.1" font-size="12.15" text-anchor="start" textLength="55.14" lengthAdjust="spacingAndGlyphs" stroke="#000" stroke-width="0.18">G : Green</text>
<text x="333.97" y="656.1" font-size="12.15" text-anchor="start" textLength="41.98" lengthAdjust="spacingAndGlyphs" stroke="#000" stroke-width="0.18">L : Blue</text>
<text x="393.85" y="656.1" font-size="12.15" text-anchor="start" textLength="53.09" lengthAdjust="spacingAndGlyphs" stroke="#000" stroke-width="0.18">W : White</text>
<text x="464.32" y="656.1" font-size="12.15" text-anchor="start" textLength="54.57" lengthAdjust="spacingAndGlyphs" stroke="#000" stroke-width="0.18">Y : Yellow</text>
<text x="536.24" y="656.1" font-size="12.15" text-anchor="start" textLength="74.1" lengthAdjust="spacingAndGlyphs" stroke="#000" stroke-width="0.18">SB : Sky blue</text>
<text x="91.07" y="668.6" font-size="12.15" text-anchor="start" textLength="63.33" lengthAdjust="spacingAndGlyphs" stroke="#000" stroke-width="0.18">BR : Brown</text>
<text x="170.61" y="668.6" font-size="12.15" text-anchor="start" textLength="61.83" lengthAdjust="spacingAndGlyphs" stroke="#000" stroke-width="0.18">O : Orange</text>
<text x="249.39" y="668.6" font-size="12.15" text-anchor="start" textLength="55.04" lengthAdjust="spacingAndGlyphs" stroke="#000" stroke-width="0.18">GR : Grey</text>
<text x="321.67" y="668.6" font-size="12.15" text-anchor="start" textLength="42.43" lengthAdjust="spacingAndGlyphs" stroke="#000" stroke-width="0.18">R : Red</text>
<text x="380.9" y="668.6" font-size="12.15" text-anchor="start" textLength="41.87" lengthAdjust="spacingAndGlyphs" stroke="#000" stroke-width="0.18">P : Pink</text>
<text x="441.55" y="668.6" font-size="12.15" text-anchor="start" textLength="48.73" lengthAdjust="spacingAndGlyphs" stroke="#000" stroke-width="0.18">V : Violet</text>
<text x="507.08" y="668.6" font-size="12.15" text-anchor="start" textLength="63.47" lengthAdjust="spacingAndGlyphs" stroke="#000" stroke-width="0.18">PU : Purple</text>
<text x="587.65" y="668.6" font-size="12.15" text-anchor="start" textLength="52.55" lengthAdjust="spacingAndGlyphs" stroke="#000" stroke-width="0.18">SI : Silver</text>
<text transform="translate(641.98,695.30) scale(0.432,1)" font-size="12.4" font-weight="bold" fill="#000" stroke="#000" stroke-width="0.1">W</text>
<text transform="translate(647.31,695.30) scale(0.763,1)" font-size="12.4" font-weight="bold" fill="#000" stroke="#000" stroke-width="0.1">9</text>
<text transform="translate(652.17,695.30) scale(0.800,1)" font-size="12.4" font-weight="bold" fill="#000" stroke="#000" stroke-width="0.1">F</text>
<text transform="translate(658.19,695.30) scale(0.743,1)" font-size="12.4" font-weight="bold" fill="#000" stroke="#000" stroke-width="0.1">5</text>
<text transform="translate(663.76,695.30) scale(0.692,1)" font-size="12.4" font-weight="bold" fill="#000" stroke="#000" stroke-width="0.1">4</text>
<text transform="translate(668.49,695.30) scale(0.725,1)" font-size="12.4" font-weight="bold" fill="#000" stroke="#000" stroke-width="0.1">E</text>
<text transform="translate(674.35,695.30) scale(0.778,1)" font-size="12.4" font-weight="bold" fill="#000" stroke="#000" stroke-width="0.1">0</text>
<path d="M681.80,686.77 L683.28,686.77 L683.28,695.30 L681.80,695.30 L681.80,688.17 L680.05,688.95 L680.05,687.77 Z" fill="#000"/>
<text transform="translate(685.25,695.30) scale(0.763,1)" font-size="12.4" font-weight="bold" fill="#000" stroke="#000" stroke-width="0.1">9</text>
<text transform="translate(690.58,695.30) scale(0.606,1)" font-size="12.4" font-weight="bold" fill="#000" stroke="#000" stroke-width="0.1">A</text>
</svg>
</body></html>
